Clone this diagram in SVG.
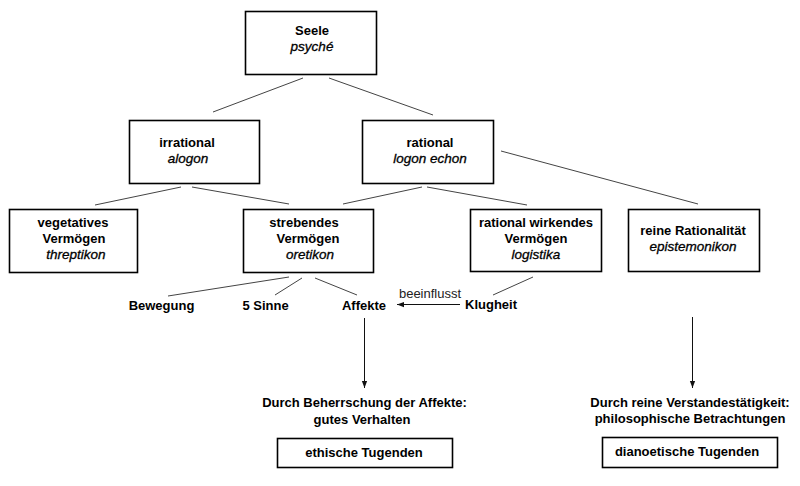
<svg xmlns="http://www.w3.org/2000/svg" width="800" height="486" viewBox="0 0 800 486">
<defs>
<style>
.box{fill:#fff;stroke:#000;stroke-width:1.6}
.t{font-family:"Liberation Sans",Arial,sans-serif;font-size:13px;font-weight:bold;fill:#000;text-anchor:middle}
.i{font-family:"Liberation Sans",Arial,sans-serif;font-size:13.5px;font-style:italic;fill:#000;stroke:#000;stroke-width:0.3;text-anchor:middle}
.r{font-family:"Liberation Sans",Arial,sans-serif;font-size:13px;fill:#222;text-anchor:middle}
.ln{stroke:#444;stroke-width:1;fill:none}
.ar{stroke:#111;stroke-width:1;fill:none}
</style>
<marker id="ah" viewBox="0 0 8 8" refX="8" refY="4" markerWidth="7" markerHeight="7" markerUnits="userSpaceOnUse" orient="auto">
<path d="M0,1 L8,4 L0,7 Z" fill="#111"/>
</marker>
</defs>
<rect width="800" height="486" fill="#fff"/>
<g id="connectors">
<line class="ln" x1="303" y1="78" x2="213" y2="112"/>
<line class="ln" x1="329" y1="78" x2="433" y2="115"/>
<line class="ln" x1="181" y1="187" x2="95" y2="205"/>
<line class="ln" x1="192" y1="187" x2="289" y2="204"/>
<line class="ln" x1="422" y1="187" x2="343" y2="204"/>
<line class="ln" x1="427" y1="187" x2="527" y2="205"/>
<line class="ln" x1="501" y1="151" x2="698" y2="204"/>
<line class="ln" x1="289" y1="277" x2="168" y2="296"/>
<line class="ln" x1="302" y1="278" x2="275" y2="295"/>
<line class="ln" x1="315" y1="278" x2="357" y2="295"/>
<line class="ln" x1="533" y1="277" x2="493" y2="295"/>
<line class="ar" x1="460" y1="304.5" x2="397" y2="304.5" marker-end="url(#ah)"/>
<line class="ar" x1="364.5" y1="318" x2="364.5" y2="388" marker-end="url(#ah)"/>
<line class="ar" x1="692.5" y1="317" x2="692.5" y2="388" marker-end="url(#ah)"/>
<text class="r" x="430" y="298">beeinflusst</text>
</g>
<g id="seele">
<rect class="box" x="245.5" y="11.5" width="131" height="63"/>
<text class="t" x="312" y="35">Seele</text>
<text class="i" x="312" y="51">psyché</text>
</g>
<g id="irrational">
<rect class="box" x="129.5" y="120.5" width="130" height="63"/>
<text class="t" x="187" y="147">irrational</text>
<text class="i" x="188" y="163">alogon</text>
</g>
<g id="rational">
<rect class="box" x="362.5" y="120.5" width="131" height="63"/>
<text class="t" x="430" y="147">rational</text>
<text class="i" x="430" y="163">logon echon</text>
</g>
<g id="vegetativ">
<rect class="box" x="9.5" y="209.5" width="128" height="63"/>
<text class="t" x="73" y="227">vegetatives</text>
<text class="t" x="74" y="243">Vermögen</text>
<text class="i" x="76" y="259">threptikon</text>
</g>
<g id="strebend">
<rect class="box" x="243.5" y="209.5" width="130" height="63"/>
<text class="t" x="304" y="227">strebendes</text>
<text class="t" x="308" y="243">Vermögen</text>
<text class="i" x="310" y="259">oretikon</text>
</g>
<g id="rationalwirkend">
<rect class="box" x="470.5" y="209.5" width="131" height="62"/>
<text class="t" x="536" y="227">rational wirkendes</text>
<text class="t" x="536" y="243">Vermögen</text>
<text class="i" x="536" y="259">logistika</text>
</g>
<g id="reine">
<rect class="box" x="628.5" y="209.5" width="131" height="62"/>
<text class="t" x="693" y="235">reine Rationalität</text>
<text class="i" x="693" y="251">epistemonikon</text>
</g>
<g id="bewegung"><text class="t" x="161.5" y="310">Bewegung</text></g>
<g id="sinne"><text class="t" x="265.5" y="310">5 Sinne</text></g>
<g id="affekte"><text class="t" x="364" y="310">Affekte</text></g>
<g id="klugheit"><text class="t" x="491" y="309">Klugheit</text></g>
<g id="ethisch">
<text class="t" x="364.5" y="407">Durch Beherrschung der Affekte:</text>
<text class="t" x="362" y="424">gutes Verhalten</text>
<rect class="box" x="277.5" y="438.5" width="175" height="29"/>
<text class="t" x="364" y="457">ethische Tugenden</text>
</g>
<g id="dianoetisch">
<text class="t" x="690" y="407">Durch reine Verstandestätigkeit:</text>
<text class="t" x="690" y="423">philosophische Betrachtungen</text>
<rect class="box" x="602.5" y="437.5" width="175" height="30"/>
<text class="t" x="687" y="456">dianoetische Tugenden</text>
</g>
</svg>
